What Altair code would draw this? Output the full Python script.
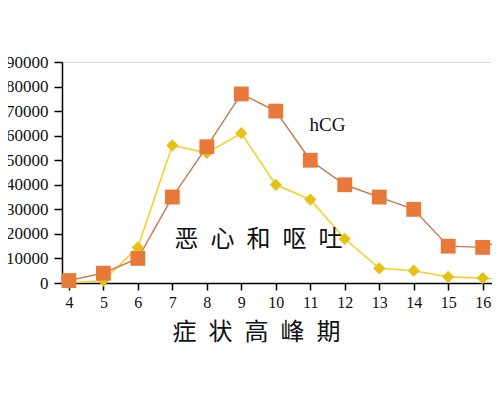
import altair as alt
import pandas as pd

weeks = [4, 5, 6, 7, 8, 9, 10, 11, 12, 13, 14, 15, 16, 17]
hcg = [1000, 4000, 10000, 35000, 55500, 77000, 70000, 50000, 40000, 35000, 30000, 15000, 14500, 19500]
nausea = [0, 1000, 14500, 56000, 53000, 61000, 40000, 34000, 18000, 6000, 5000, 2500, 2000, 1000]
x_ticks = [4, 5, 6, 7, 8, 9, 10, 11, 12, 13, 14, 15, 16]
y_ticks = [0, 10000, 20000, 30000, 40000, 50000, 60000, 70000, 80000, 90000]

df_h = pd.DataFrame({"week": weeks, "value": hcg})
df_n = pd.DataFrame({"week": weeks, "value": nausea})

SP = "\u2002"
x_title = SP.join(list("症状高峰期"))
note_text = SP.join(list("恶心和呕吐"))

xs = alt.Scale(domain=[3.8, 16.27], nice=False, zero=False)
ys = alt.Scale(domain=[0, 90000], nice=False)

xaxis = alt.Axis(values=x_ticks, title=x_title, grid=False, domain=True, domainColor="black",
                 domainWidth=1.5, tickColor="black", tickWidth=1.5, tickSize=7,
                 labelFont="Liberation Serif", labelFontSize=16, labelColor="#111",
                 labelPadding=4, labelOverlap=False, labelFlush=False, format="d",
                 titleFont="Noto Sans CJK SC", titleFontSize=24,
                 titleFontWeight="normal", titleColor="#111", titleAnchor="start",
                 titleX=110, titleY=49, titleBaseline="middle")
yaxis = alt.Axis(values=y_ticks, title=None, grid=False, domain=True, domainColor="black",
                 domainWidth=1.5, tickColor="black", tickWidth=1.5, tickSize=8,
                 labelFont="Liberation Serif", labelFontSize=17, labelColor="#111",
                 labelPadding=6, labelOverlap=False, labelFlush=False, format="d")

X = alt.X("week:Q", scale=xs, axis=xaxis)
Y = alt.Y("value:Q", scale=ys, axis=yaxis)

n_line = alt.Chart(df_n).mark_line(color="#F2D22A", strokeWidth=1.6).encode(x=X, y=Y)
n_pts = alt.Chart(df_n).mark_point(shape="diamond", filled=True, color="#E6C214", size=150, opacity=1).encode(x=X, y=Y)
h_line = alt.Chart(df_h).mark_line(color="#C8764E", strokeWidth=1.4).encode(x=X, y=Y)
h_pts = alt.Chart(df_h).mark_point(shape="square", filled=True, color="#E8793A", size=220, opacity=1).encode(x=X, y=Y)

labels = pd.DataFrame({"week": [11.5, 9.5], "value": [64500, 17500], "txt": ["hCG", note_text]})
hcg_lab = alt.Chart(labels.iloc[[0]]).mark_text(font="Liberation Serif", fontSize=19, color="#111").encode(
    x=X, y=Y, text="txt:N")
n_lab = alt.Chart(labels.iloc[[1]]).mark_text(font="Noto Sans CJK SC", fontSize=24, color="#111").encode(
    x=X, y=Y, text="txt:N")

chart = alt.layer(n_line, h_line, n_pts, h_pts, hcg_lab, n_lab).properties(
    width=430, height=221,
    autosize=alt.AutoSizeParams(type="none"),
    padding={"left": 54, "top": 54, "right": 0, "bottom": 90},
).configure_view(fill="#ffffff", stroke="#ffffff", strokeWidth=2).configure(background="white")

chart.save("out.html", embed_options={"renderer": "svg", "actions": False})
